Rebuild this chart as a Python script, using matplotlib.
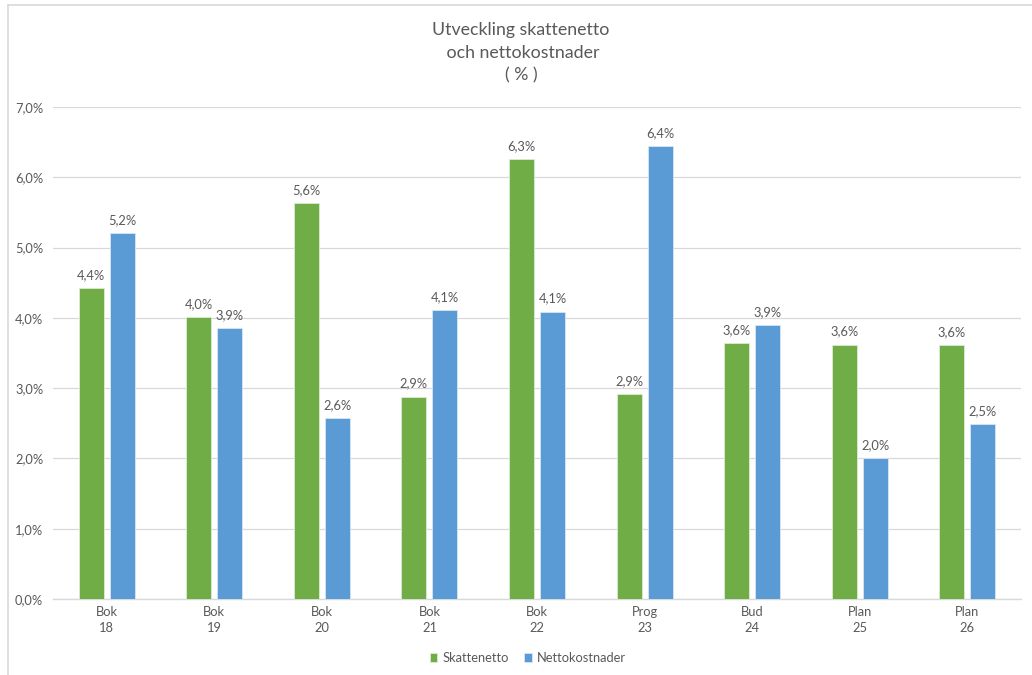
import matplotlib.pyplot as plt
from matplotlib.lines import Line2D
import numpy as np

# chart data
categories = ['Bok\n18', 'Bok\n19', 'Bok\n20', 'Bok\n21', 'Bok\n22', 'Prog\n23', 'Bud\n24', 'Plan\n25', 'Plan\n26']
skattenetto = [4.42, 4.01, 5.63, 2.88, 6.26, 2.92, 3.64, 3.62, 3.61]
nettokostnader = [5.21, 3.86, 2.58, 4.11, 4.09, 6.44, 3.90, 2.01, 2.49]
series_names = ['Skattenetto', 'Nettokostnader']

green = '#70AD47'
blue = '#5B9BD5'
text_color = '#595959'

plt.rcParams['font.family'] = ['Lato', 'DejaVu Sans']

fig = plt.figure(figsize=(10.32, 6.75), dpi=100, facecolor='white')
ax = fig.add_axes([53 / 1032, 76 / 675, 968 / 1032, 492 / 675])

x = np.arange(len(categories))
width = 0.233
offset = 0.144

bars1 = ax.bar(x - offset, skattenetto, width, color=green, edgecolor='#DDEBD3', linewidth=0.6, label=series_names[0], zorder=3)
bars2 = ax.bar(x + offset, nettokostnader, width, color=blue, edgecolor='#D6E6F4', linewidth=0.6, label=series_names[1], zorder=3)

# value labels above the bars
for bars in (bars1, bars2):
    for b in bars:
        h = b.get_height()
        ax.annotate(f'{h:.1f}%'.replace('.', ','), (b.get_x() + b.get_width() / 2, h),
                    xytext=(0, 5), textcoords='offset points', ha='center', va='bottom',
                    fontsize=9.3, color=text_color)

ax.set_xlim(-0.5, len(categories) - 0.5)
ax.set_ylim(0, 7)
ax.set_yticks(np.arange(0, 7.1, 1))
ax.set_yticklabels([f'{v:.1f}%'.replace('.', ',') for v in np.arange(0, 7.1, 1)])
ax.set_xticks(x)
ax.set_xticklabels(categories, linespacing=1.45)
ax.tick_params(axis='both', length=0, colors=text_color, labelsize=9.3)
ax.tick_params(axis='x', pad=5)
ax.tick_params(axis='y', pad=7)
ax.grid(axis='y', color='#D9D9D9', linewidth=0.9, zorder=0)
for side in ('top', 'right', 'left'):
    ax.spines[side].set_visible(False)
ax.spines['bottom'].set_color('#D9D9D9')
ax.spines['bottom'].set_linewidth(1.0)

fig.text(521 / 1032, 1 - 53 / 675, 'Utveckling skattenetto\n och nettokostnader\n( % )', ha='center', va='center',
         fontsize=12.8, color=text_color, linespacing=1.5)

leg = fig.legend(loc='center', bbox_to_anchor=(528 / 1032, 1 - 658 / 675), ncol=2, frameon=False,
                 fontsize=9.3, handlelength=0.6, handleheight=0.6, handletextpad=0.4, columnspacing=1.2)
for t in leg.get_texts():
    t.set_color(text_color)

# outer chart frame (left and top edge visible)
fig.add_artist(Line2D([8 / 1032, 8 / 1032], [0, 1 - 5 / 675], color='#D9D9D9', linewidth=1.2, transform=fig.transFigure))
fig.add_artist(Line2D([8 / 1032, 1], [1 - 5 / 675, 1 - 5 / 675], color='#D9D9D9', linewidth=1.2, transform=fig.transFigure))

plt.savefig('out.png', dpi=100, facecolor='white')
